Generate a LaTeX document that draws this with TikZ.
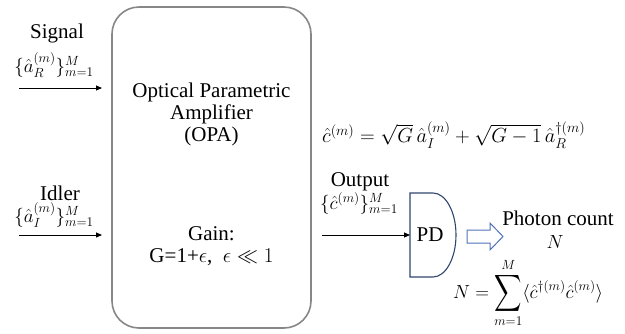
\documentclass[tikz,border=0pt]{standalone}
\usepackage{amsmath,amssymb}
\usepackage{fix-cm}
\usepackage{graphicx}
\usepackage{fontspec}
\setmainfont{LiberationSerif}[Extension=.ttf,UprightFont=*-Regular,ItalicFont=*-Italic,BoldFont=*-Bold,BoldItalicFont=*-BoldItalic]
\usetikzlibrary{arrows.meta}
\definecolor{boxgray}{RGB}{135,135,135}
\definecolor{pdblue}{RGB}{47,69,110}
\definecolor{arrblue}{RGB}{80,115,185}
\tikzset{
  txt/.style={font=\rmfamily\fontsize{21}{22}\selectfont, inner sep=0pt, align=center},
  mtxt/.style={font=\fontsize{19}{22}\selectfont, inner sep=0pt},
  conn/.style={line width=0.9pt, -{Triangle[length=6pt,width=5pt]}},
}
\begin{document}
\begin{tikzpicture}[x=1pt,y=-1pt]
\useasboundingbox (0,0) rectangle (625,333);
% OPA box
\node[draw=boxgray, line width=1.6pt, rounded corners=27pt, minimum width=199pt, minimum height=321pt, inner sep=0pt] (opa) at (211.5,167.5) {};
\node[txt] (opatxt) at (211.5,114) {Optical Parametric\\Amplifier\\(OPA)};
\node[txt] (gain) at (211.5,246.5) {Gain:\\G=1+$\epsilon$,\ \ $\epsilon\ll 1$};
% inputs
\node[txt] (signal) at (57,33) {Signal};
\node[mtxt] (setR) at (54,65) {$\{\hat{a}_R^{(m)}\}_{m=1}^{M}$};
\coordinate (s0) at (19,88);
\coordinate (s1) at (102,88);
\draw[conn] (s0) -- (s1);
\node[txt] (idler) at (60,193) {Idler};
\node[mtxt] (setI) at (54,215) {$\{\hat{a}_I^{(m)}\}_{m=1}^{M}$};
\coordinate (i0) at (19,235);
\coordinate (i1) at (102,235);
\draw[conn] (i0) -- (i1);
% equation
\node[mtxt, anchor=west] (eq) at (322,135) {\resizebox{263pt}{!}{$\hat{c}^{(m)}=\sqrt{G}\,\hat{a}_I^{(m)}+\sqrt{G-1}\,\hat{a}_R^{\dagger(m)}$}};
% output
\node[txt] (output) at (360,182) {Output};
\node[mtxt] (setC) at (359,203) {$\{\hat{c}^{(m)}\}_{m=1}^{M}$};
% PD
\coordinate (pdtl) at (410,193);
\draw[pdblue, line width=1.1pt] (pdtl) -- (433,193) arc[start angle=-90, end angle=90, x radius=23, y radius=42] -- (410,277) -- cycle;
\node[txt] (pd) at (430,235) {PD};
\coordinate (o0) at (322,235);
\coordinate (pdw) at (410,235);
\draw[conn] (o0) -- (pdw);
% hollow arrow
\draw[arrblue, line width=1pt, fill=white] (467,230) -- (490,230) -- (490,223) -- (503,236.5) -- (490,250) -- (490,243) -- (467,243) -- cycle;
\node[txt] (photon) at (558,218) {Photon count};
\node[mtxt] (N) at (555,242) {$N$};
\node[mtxt, anchor=west] (sum) at (453,293) {$\displaystyle N=\mathop{\vcenter{\hbox{\scalebox{1}[1.35]{$\displaystyle\sum$}}}}\limits_{m=1}^{M}\langle\hat{c}^{\dagger(m)}\hat{c}^{(m)}\rangle$};
\end{tikzpicture}
\end{document}
